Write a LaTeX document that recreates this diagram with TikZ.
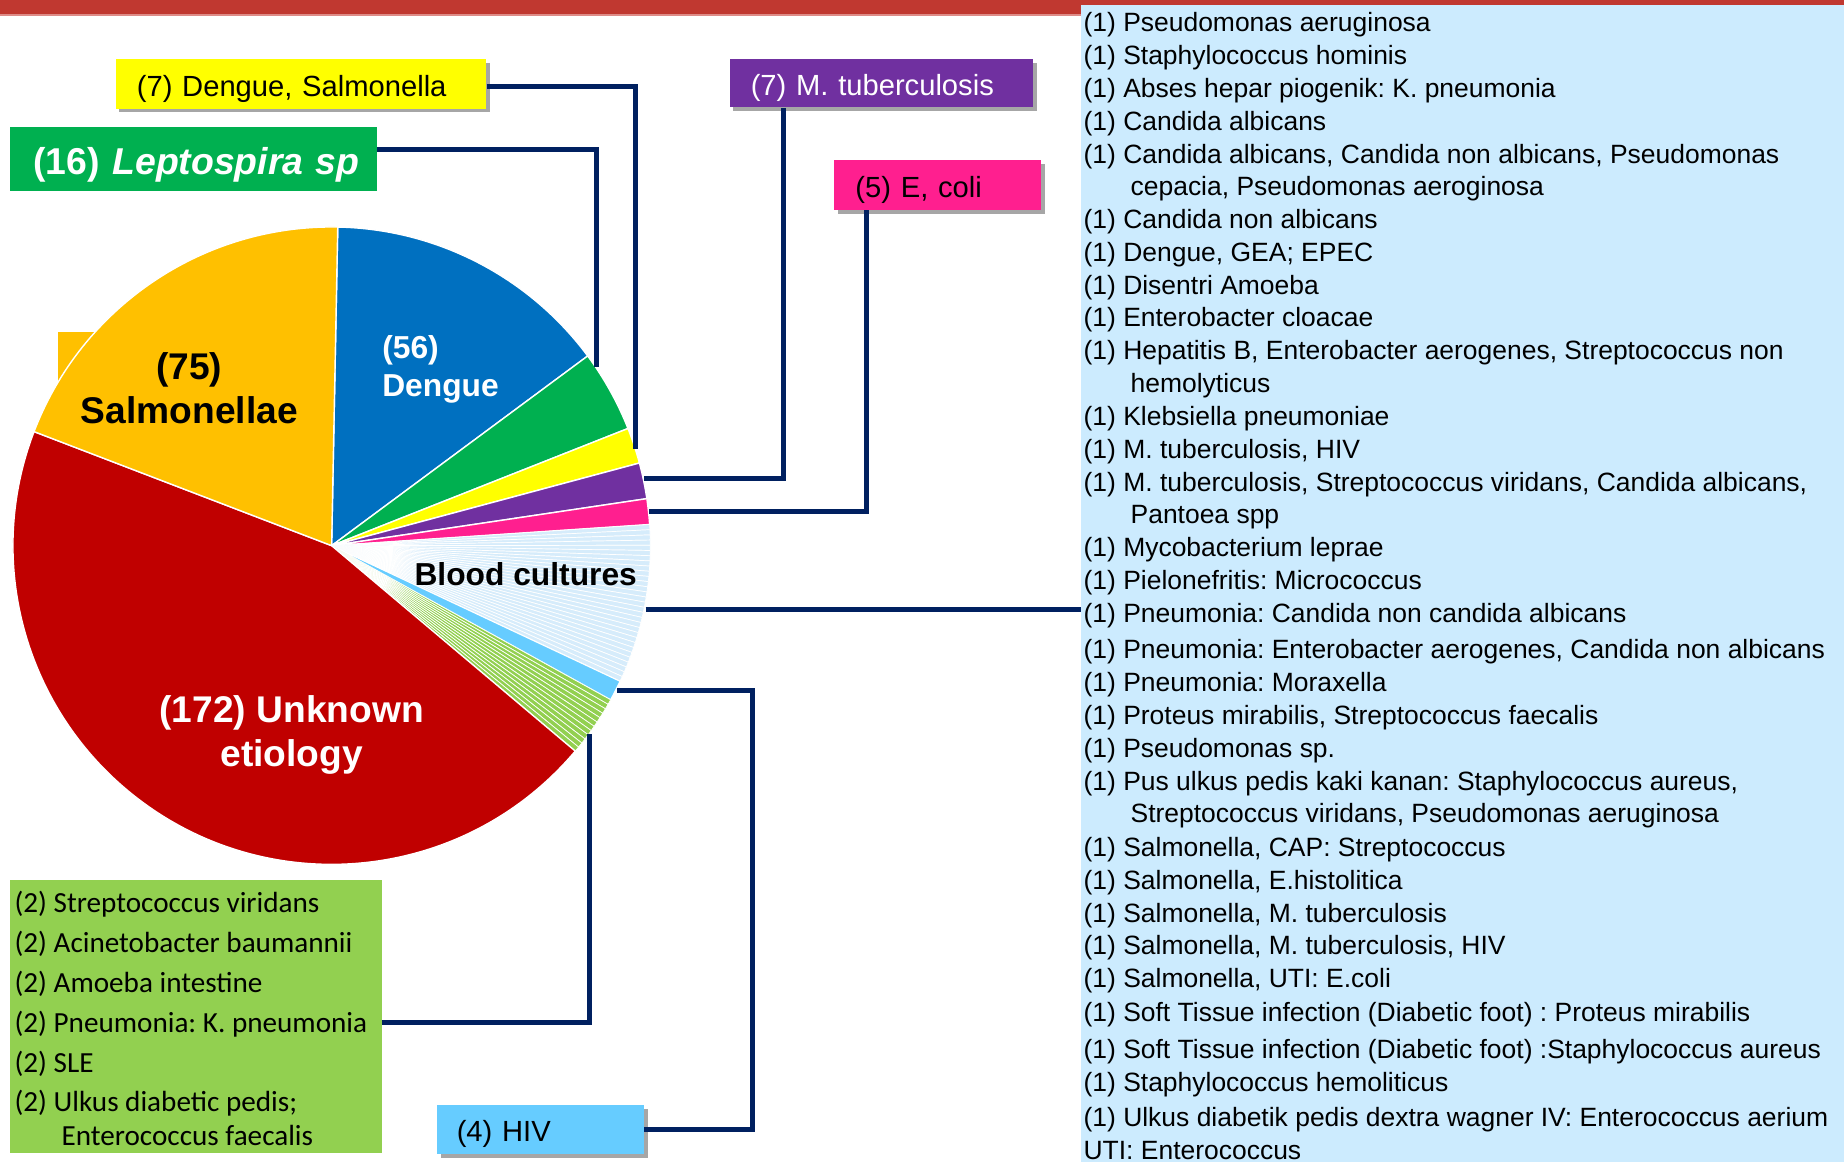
\documentclass[tikz,border=0pt]{standalone}
\usepackage{fontspec}
\setmainfont{Liberation Sans}
\newfontfamily\calfont{Carlito}
\usetikzlibrary{shadows}
\definecolor{navy}{RGB}{0,32,96}
\definecolor{redbar}{RGB}{192,56,48}
\definecolor{redlight}{RGB}{222,140,136}
\definecolor{panelblue}{RGB}{204,235,254}
\definecolor{bcblue}{RGB}{214,236,251}
\definecolor{salm}{RGB}{255,192,0}
\definecolor{deng}{RGB}{0,112,192}
\definecolor{lepto}{RGB}{0,176,80}
\definecolor{yel}{RGB}{255,255,0}
\definecolor{purp}{RGB}{112,48,160}
\definecolor{pinkc}{RGB}{255,31,143}
\definecolor{hivblue}{RGB}{102,204,255}
\definecolor{lgreen}{RGB}{146,208,80}
\definecolor{unk}{RGB}{192,0,0}
\newcommand\mypieslice[4]{\draw[fill=#3, draw=white, line width=#4] (0,0) -- (#1:271) arc[start angle=#1, end angle=#2, radius=271] -- cycle;}
\newcommand\boxtxt[2]{\raisebox{#1}[0pt][0pt]{#2}}
\frenchspacing
\begin{document}
\frenchspacing
\begin{tikzpicture}[x=0.5pt,y=-0.5pt,
  conn/.style={draw=navy, line width=2.1pt},
  shadowed/.style={drop shadow={shadow xshift=1.6pt,shadow yshift=-1.6pt,opacity=0.35,fill=black}},
  lbox/.style={rectangle, anchor=north west, inner ysep=0pt, align=left, font=\fontsize{12.4}{14}\selectfont},
  listtxt/.style={anchor=base west, inner sep=0pt, font=\fontsize{11.25}{13}\selectfont},
  gtxt/.style={anchor=base west, inner sep=0pt, font=\calfont\fontsize{12.4}{14}\selectfont}]
\useasboundingbox (0,0) rectangle (1568,988);
% top bar
\fill[redbar] (0,0) rectangle (1568,12);
\fill[redlight] (0,12) rectangle (1568,13.5);
% right panel
\node[fill=panelblue, inner sep=0pt, minimum width=324.5pt, minimum height=495pt, anchor=north west] (panel) at (919,4) {};
% label background sticking out of the pie
\fill[salm] (49,282) rectangle (150,345);
% pie
\begin{scope}[shift={(282,464)}, x=0.5pt, y=0.5pt]
  \mypieslice{88.9}{36.536}{deng}{0.6pt}
  \mypieslice{36.536}{21.575}{lepto}{0.6pt}
  \mypieslice{21.575}{15.030}{yel}{0.6pt}
  \mypieslice{15.030}{8.485}{purp}{0.6pt}
  \mypieslice{8.485}{3.810}{pinkc}{0.6pt}
  \foreach \i in {0,...,30}{
    \pgfmathsetmacro\aa{3.810-\i*0.935065}
    \pgfmathsetmacro\bb{3.810-(\i+1)*0.935065}
    \mypieslice{\aa}{\bb}{bcblue}{0.3pt}
  }
  \mypieslice{-25.177}{-28.917}{hivblue}{0.5pt}
  \foreach \i in {0,...,11}{
    \pgfmathsetmacro\aa{-28.917-\i*0.935065}
    \pgfmathsetmacro\bb{-28.917-(\i+1)*0.935065}
    \mypieslice{\aa}{\bb}{lgreen}{0.3pt}
  }
  \mypieslice{-40.138}{-200.969}{unk}{0.6pt}
  \mypieslice{-200.969}{-271.1}{salm}{0.6pt}
\end{scope}
% pie labels
\node[align=center, font=\fontsize{15.8}{18.5}\selectfont\bfseries] (salmlbl) at (161,330) {(75)\\Salmonellae};
\node[align=left, anchor=west, text=white, font=\fontsize{13.5}{16}\selectfont\bfseries] (denglbl) at (318,314) {(56)\\Dengue};
\node[font=\fontsize{13.5}{16}\selectfont\bfseries] (bclbl) at (447,488) {Blood cultures};
\node[align=center, text=white, font=\fontsize{15.8}{19}\selectfont\bfseries] (unklbl) at (248,625) {(172) Unknown\\etiology};
% pie edge points
\coordinate (pL) at (507,312);
\coordinate (pDS) at (540,382);
\coordinate (pTB) at (548,407);
\coordinate (pEC) at (552,435);
\coordinate (pBC) at (549,518);
\coordinate (pHIV) at (525,587);
\coordinate (pG) at (501,624);
% boxes
\node[lbox, shadowed, fill=yel, text width=139.5pt, inner xsep=9pt, minimum height=21pt] (ds) at (98,50) {\boxtxt{-5.3pt}{(7) Dengue, Salmonella}};
\node[lbox, fill=lepto, text=white, text width=146pt, inner xsep=5pt, minimum height=27pt, font=\fontsize{15.9}{18}\selectfont\bfseries] (lep) at (8,108) {\boxtxt{-6.6pt}{\hspace*{5pt}(16) \textit{Leptospira sp}}};
\node[lbox, shadowed, fill=purp, text=white, text width=111pt, inner xsep=9pt, minimum height=20.5pt] (tb) at (620,50) {\boxtxt{-5.3pt}{(7) M. tuberculosis}};
\node[lbox, shadowed, fill=pinkc, text width=70pt, inner xsep=9pt, minimum height=21pt] (ec) at (709,136) {\boxtxt{-5.3pt}{(5) E, coli}};
\node[lbox, shadowed, fill=hivblue, text width=71pt, inner xsep=8.5pt, minimum height=21pt] (hiv) at (371,939) {\boxtxt{-5.3pt}{(4) HIV}};
\node[fill=lgreen, inner sep=0pt, minimum width=158pt, minimum height=116pt, anchor=north west] (glist) at (8,748) {};
% green list text
\node[gtxt] (g1) at (12,776) {(2) Streptococcus viridans};
\node[gtxt] (g2) at (12,810) {(2) Acinetobacter baumannii};
\node[gtxt] (g3) at (12,844) {(2) Amoeba intestine};
\node[gtxt] (g4) at (12,878) {(2) Pneumonia: K. pneumonia};
\node[gtxt] (g5) at (12,912) {(2) SLE};
\node[gtxt] (g6) at (12,945) {(2) Ulkus diabetic pedis;};
\node[gtxt] (g7) at (52,974) {Enterococcus faecalis};
% right list
\foreach \x/\y/\t in {
 921/19/{(1) Pseudomonas aeruginosa},
 921/47/{(1) Staphylococcus hominis},
 921/75/{(1) Abses hepar piogenik: K. pneumonia},
 921/103/{(1) Candida albicans},
 921/131/{(1) Candida albicans, Candida non albicans, Pseudomonas},
 961/158/{cepacia, Pseudomonas aeroginosa},
 921/186/{(1) Candida non albicans},
 921/214/{(1) Dengue, GEA; EPEC},
 921/242/{(1) Disentri Amoeba},
 921/270/{(1) Enterobacter cloacae},
 921/298/{(1) Hepatitis B, Enterobacter aerogenes, Streptococcus non},
 961/326/{hemolyticus},
 921/354/{(1) Klebsiella pneumoniae},
 921/382/{(1) M. tuberculosis, HIV},
 921/410/{(1) M. tuberculosis, Streptococcus viridans, Candida albicans,},
 961/437/{Pantoea spp},
 921/465/{(1) Mycobacterium leprae},
 921/493/{(1) Pielonefritis: Micrococcus},
 921/521/{(1) Pneumonia: Candida non candida albicans},
 921/552/{(1) Pneumonia: Enterobacter aerogenes, Candida non albicans},
 921/580/{(1) Pneumonia: Moraxella},
 921/608/{(1) Proteus mirabilis, Streptococcus faecalis},
 921/636/{(1) Pseudomonas sp.},
 921/664/{(1) Pus ulkus pedis kaki kanan: Staphylococcus aureus,},
 961/691/{Streptococcus viridans, Pseudomonas aeruginosa},
 921/720/{(1) Salmonella, CAP: Streptococcus},
 921/748/{(1) Salmonella, E.histolitica},
 921/776/{(1) Salmonella, M. tuberculosis},
 921/804/{(1) Salmonella, M. tuberculosis, HIV},
 921/832/{(1) Salmonella, UTI: E.coli},
 921/861/{(1) Soft Tissue infection (Diabetic foot) : Proteus mirabilis},
 921/892/{(1) Soft Tissue infection (Diabetic foot) :Staphylococcus aureus},
 921/920/{(1) Staphylococcus hemoliticus},
 921/950/{(1) Ulkus diabetik pedis dextra wagner IV: Enterococcus aerium},
 921/978/{UTI: Enterococcus}}{
  \node[listtxt] (bl\y) at (\x,\y+8) {\t};
}
% connectors
\draw[conn] ([yshift=-1pt]ds.east) -| (pDS);
\draw[conn] ([yshift=4pt]lep.east) -| (pL);
\draw[conn] ([xshift=-41.5pt]tb.south) |- (pTB);
\draw[conn] ([xshift=-30.5pt]ec.south) |- (pEC);
\draw[conn] (pBC) -- (pBC -| panel.west);
\draw[conn] (pHIV) -- ++(115,0) |- (hiv.east);
\draw[conn] ([yshift=-2.5pt]glist.east) -| (pG);
\end{tikzpicture}
\end{document}
